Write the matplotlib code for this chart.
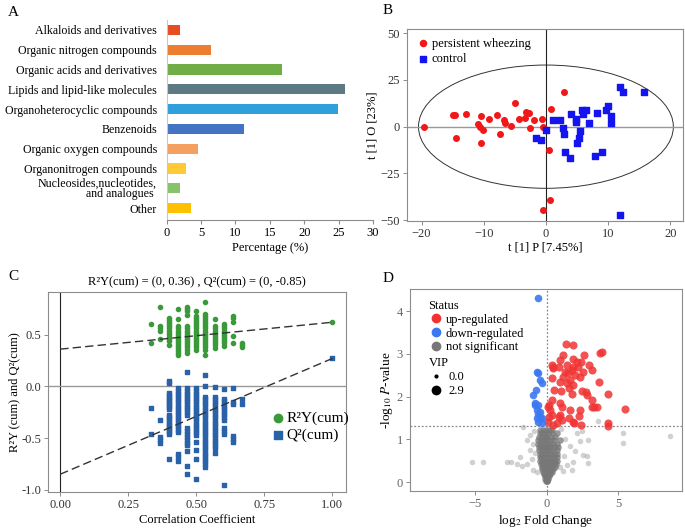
import numpy as np
import matplotlib
matplotlib.use("Agg")
import matplotlib.pyplot as plt
from matplotlib.patches import Ellipse
from matplotlib.lines import Line2D

plt.rcParams['font.family'] = ['Liberation Serif', 'DejaVu Serif']
plt.rcParams['mathtext.fontset'] = 'stix'
plt.rcParams['font.size'] = 9

# ---------------- data: panel A ----------------
classes = ["Alkaloids and derivatives", "Organic nitrogen compounds",
           "Organic acids and derivatives", "Lipids and lipid-like molecules",
           "Organoheterocyclic compounds", "Benzenoids",
           "Organic oxygen compounds", "Organonitrogen compounds",
           "Nucleosides,nucleotides,\nand analogues ", "Other"]
percent = [1.9, 6.5, 16.8, 25.9, 24.9, 11.2, 4.6, 2.8, 1.9, 3.6]
class_colors = ["#E84C22", "#ED7D31", "#70AD47", "#5D7A84", "#2FA0DB",
                "#4472C4", "#F4A060", "#FFCA36", "#85C46A", "#FFC000"]

# ---------------- data: panel B (OPLS-DA scores) ----------------
pw_x = [-19.6, -14.9, -14.7, -14.5, -12.8, -10.5, -11.0, -10.6, -10.2, -10.5,
        -9.2, -7.9, -7.4, -6.7, -6.6, -5.6, -5.0, -4.4, -3.4, -3.2, -2.8,
        -2.5, -1.9, -0.7, -0.5, 0.75, 0.54, 2.85, 0.6, -0.5]
pw_y = [-0.2, 6.1, 6.3, -5.8, 7.0, 5.6, 1.6, -0.2, -1.8, -9.0,
        4.3, 6.5, -3.8, 3.4, 1.8, 0.2, 12.6, 4.2, 4.7, 8.1, 7.2,
        -0.5, 3.6, 4.2, 0.0, 9.2, -12.6, 18.6, -39.0, -44.4]
ct_x = [-0.05, -1.6, -0.75, 1.1, 2.2, 2.8, 2.85, 3.1, 3.9, 4.1, 4.9, 4.9,
        5.0, 5.4, 5.5, 5.75, 5.9, 6.4, 7.0, 8.2, 7.9, 9.1, 9.7, 10.0, 10.5,
        10.5, 11.9, 12.4, 15.75, 11.9]
ct_y = [-2.0, -6.0, -6.9, 3.4, 3.8, -0.9, -3.8, -13.5, -17.0, 6.7, 4.3, 2.7,
        -9.0, -6.3, -2.3, 9.0, 6.9, 8.8, 2.2, 7.4, -15.5, -13.7, 9.0, 11.0, 5.6,
        1.8, 21.5, 18.8, 18.8, -47.5]
ellipse_w, ellipse_h = 41.0, 66.0

# ---------------- data: panel C (permutation test) ----------------
perm_cols = [0.333, 0.367, 0.400, 0.433, 0.467, 0.500, 0.533, 0.567, 0.600, 0.633, 0.667, 1.0]
r2_cols = [
    [0.60, 0.42],
    [0.77, 0.58, 0.56, 0.54, 0.46],
    [0.66, 0.64, 0.62, 0.60, 0.58, 0.56, 0.54, 0.52, 0.50, 0.48, 0.46, 0.44, 0.40],
    [0.75, 0.65, 0.58, 0.56, 0.54, 0.52, 0.50, 0.48, 0.46, 0.44, 0.42, 0.40, 0.38, 0.36, 0.34, 0.32, 0.30],
    [0.77, 0.75, 0.73, 0.69, 0.58, 0.56, 0.54, 0.52, 0.50, 0.48, 0.46, 0.44, 0.42, 0.40, 0.38, 0.35, 0.32],
    [0.73, 0.68, 0.66, 0.64, 0.62, 0.60, 0.58, 0.56, 0.54, 0.52, 0.50, 0.48, 0.46, 0.44, 0.42, 0.40, 0.38, 0.35],
    [0.82, 0.70, 0.68, 0.66, 0.64, 0.62, 0.60, 0.58, 0.56, 0.54, 0.52, 0.50, 0.48, 0.46, 0.44, 0.42, 0.40, 0.38, 0.35, 0.30],
    [0.65, 0.58, 0.56, 0.54, 0.52, 0.50, 0.48, 0.46, 0.44, 0.42, 0.40, 0.37],
    [0.60, 0.58, 0.56, 0.54, 0.52, 0.50, 0.48, 0.46, 0.44, 0.42, 0.39],
    [0.68, 0.66, 0.62, 0.49, 0.42],
    [0.42, 0.40, 0.38],
    [0.62],
]
q2_cols = [
    [-0.21, -0.46],
    [-0.33, -0.49, -0.52, -0.55],
    [0.05, 0.03, -0.06, -0.08, -0.10, -0.12, -0.14, -0.16, -0.18, -0.20, -0.22, -0.28, -0.30,
     -0.32, -0.34, -0.36, -0.38, -0.40, -0.42, -0.44, -0.46, -0.70],
    [-0.02, -0.045, -0.07, -0.095, -0.12, -0.145, -0.17, -0.195, -0.22, -0.245, -0.27, -0.295,
     -0.32, -0.345, -0.37, -0.395, -0.42, -0.44, -0.65, -0.68, -0.72],
    [0.14, -0.02, -0.045, -0.07, -0.095, -0.12, -0.145, -0.17, -0.195, -0.22, -0.245, -0.28,
     -0.40, -0.43, -0.46, -0.49, -0.52, -0.55, -0.57, -0.63, -0.77, -0.85],
    [-0.02, -0.045, -0.07, -0.095, -0.12, -0.145, -0.17, -0.195, -0.22, -0.245, -0.27, -0.295,
     -0.32, -0.345, -0.37, -0.395, -0.42, -0.445, -0.47, -0.54, -0.62, -0.70, -0.90],
    [0.11, 0.0, -0.10, -0.125, -0.15, -0.175, -0.20, -0.225, -0.25, -0.275, -0.30, -0.325,
     -0.35, -0.375, -0.40, -0.425, -0.45, -0.475, -0.50, -0.525, -0.55, -0.575, -0.60,
     -0.625, -0.65, -0.675, -0.70, -0.725, -0.75, -0.78],
    [-0.01, -0.10, -0.125, -0.15, -0.175, -0.20, -0.225, -0.25, -0.275, -0.30, -0.325, -0.35,
     -0.375, -0.40, -0.425, -0.45, -0.475, -0.50, -0.525, -0.55, -0.575, -0.60, -0.64],
    [-0.03, -0.12, -0.145, -0.17, -0.195, -0.22, -0.245, -0.27, -0.295, -0.33, -0.40, -0.43,
     -0.46, -0.95],
    [-0.02, -0.15, -0.17, -0.48, -0.51, -0.54],
    [-0.12, -0.17],
    [0.27],
]
r2_intercept, q2_intercept = 0.36, -0.85
r2_orig, q2_orig = 0.62, 0.27

# ---------------- data: panel D (volcano) ----------------
up_x = [1.35, 1.82, 1.12, 2.63, 3.73, 3.84, 1.82, 2.1, 2.4, 0.93, 0.35, 0.46, 0.86, 1.4,
        1.86, 2.21, 2.56, 2.98, 3.15, 1.28, 1.51, 1.75, 1.16, 1.98, 2.33, 1.63, 1.86, 1.40,
        0.93, 0.35, 3.66, 1.58, 1.75, 0.53, 1.0, 2.49, 2.72, 2.8, 3.15, 4.26, 0.35, 0.93,
        1.05, 1.63, 2.33, 3.2, 3.5, 0.18, 0.23, 0.35, 0.11, 0.46, 0.88, 1.05, 1.58, 1.86,
        2.37, 4.31, 4.31, 5.5, 0.12, 0.19, 0.47, 0.7, 0.94, 1.89, 2.24, 3.3]
up_y = [3.24, 3.20, 2.97, 2.97, 3.01, 3.05, 2.89, 2.81, 2.81, 2.85, 2.74, 2.66, 2.70, 2.74,
        2.70, 2.70, 2.58, 2.74, 2.62, 2.58, 2.54, 2.62, 2.46, 2.50, 2.46, 2.39, 2.27, 2.31,
        2.35, 2.43, 2.33, 2.19, 2.07, 2.15, 2.14, 2.13, 2.11, 2.04, 1.92, 2.05, 1.92, 1.84,
        1.76, 1.68, 1.68, 1.75, 1.75, 1.80, 1.68, 1.57, 1.41, 1.33, 1.51, 1.45, 1.49, 1.41,
        1.33, 1.37, 1.30, 1.71, 1.76, 1.53, 2.70, 1.37, 1.57, 1.37, 1.55, 1.76]
down_x = [-0.59, -0.70, -0.60, -0.47, -0.35, -0.77, -0.98, -0.81, -0.58, -0.70, -0.58,
          -0.47, -0.70, -0.35, -0.58, -0.35, -0.83, -0.47]
down_y = [4.31, 2.58, 2.54, 2.39, 2.31, 2.15, 2.04, 1.84, 1.80, 1.68, 1.60,
          1.64, 1.49, 1.49, 1.41, 1.37, 1.80, 1.53]
# dense core of non-significant features
ns_core_x = [0.0, -0.05, 0.05, -0.1, 0.0, 0.1, -0.15, -0.05, 0.05, 0.15,
             -0.2, -0.1, 0.0, 0.1, 0.2, -0.25, -0.12, 0.0, 0.12, 0.25, 0.35,
             -0.3, -0.15, 0.0, 0.15, 0.3, 0.45, -0.35, -0.2, -0.05, 0.1, 0.25, 0.4, 0.55,
             -0.4, -0.25, -0.1, 0.05, 0.2, 0.35, 0.5, 0.65,
             -0.45, -0.3, -0.15, 0.0, 0.15, 0.3, 0.45, 0.6, 0.75,
             -0.5, -0.3, -0.1, 0.1, 0.3, 0.5, 0.7, -0.5, -0.3, -0.1, 0.1, 0.3, 0.5, 0.75,
             -0.55, -0.35, -0.15, 0.05, 0.25, 0.45, 0.7, -0.55, -0.35, -0.15, 0.05, 0.25, 0.5, 0.8,
             -0.6, -0.4, -0.2, 0.0, 0.2, 0.45, 0.7, -0.6, -0.4, -0.2, 0.0, 0.2, 0.5, 0.9,
             -0.55, -0.35, -0.15, 0.05, 0.3, 0.6, -0.5, -0.3, -0.1, 0.1, 0.35, 0.7,
             -0.45, -0.25, -0.05, 0.15, 0.4]
ns_core_y = [0.03, 0.03, 0.03, 0.08, 0.08, 0.08, 0.13, 0.13, 0.13, 0.13,
             0.18, 0.18, 0.18, 0.18, 0.18, 0.24, 0.24, 0.24, 0.24, 0.24, 0.24,
             0.30, 0.30, 0.30, 0.30, 0.30, 0.30, 0.36, 0.36, 0.36, 0.36, 0.36, 0.36, 0.36,
             0.43, 0.43, 0.43, 0.43, 0.43, 0.43, 0.43, 0.43,
             0.50, 0.50, 0.50, 0.50, 0.50, 0.50, 0.50, 0.50, 0.50,
             0.58, 0.58, 0.58, 0.58, 0.58, 0.58, 0.58, 0.66, 0.66, 0.66, 0.66, 0.66, 0.66, 0.66,
             0.74, 0.74, 0.74, 0.74, 0.74, 0.74, 0.74, 0.82, 0.82, 0.82, 0.82, 0.82, 0.82, 0.82,
             0.90, 0.90, 0.90, 0.90, 0.90, 0.90, 0.90, 0.98, 0.98, 0.98, 0.98, 0.98, 0.98, 0.98,
             1.06, 1.06, 1.06, 1.06, 1.06, 1.06, 1.14, 1.14, 1.14, 1.14, 1.14, 1.14,
             1.22, 1.22, 1.22, 1.22, 1.22]
# scattered non-significant features
ns_x = [-5.24, -4.43, -2.8, -2.52, -2.1, -1.75, -1.4, -1.87, -1.64, -1.17, -1.4, -0.94,
        -1.17, -0.82, -0.94, -0.7, -1.05, -0.9, 5.36, 5.36, 8.62, 2.91, 2.56, 2.8, 2.91,
        1.98, 2.3, 1.86, 1.75, 1.16, 3.6, 1.3, 1.6, 2.1, 1.0, 1.2, 0.9, 1.45, 2.45, 0.3]
ns_y = [0.46, 0.46, 0.46, 0.46, 0.41, 0.38, 0.43, 0.59, 1.29, 1.10, 0.98, 0.90,
        0.75, 0.67, 0.27, 0.23, 0.55, 1.2, 1.14, 0.92, 1.08, 0.98, 0.63, 0.60, 0.44,
        0.73, 0.96, 0.47, 0.28, 0.25, 1.43, 1.0, 0.85, 1.15, 1.25, 0.6, 0.35, 0.4, 1.2, 1.28]
p_cut = 1.301

# ---------------- figure ----------------
fig = plt.figure(figsize=(6.85, 5.32), dpi=100)
spine_col = "#8c8c8c"


def box_axes(ax):
    for s in ax.spines.values():
        s.set_color(spine_col)
        s.set_linewidth(0.8)
    ax.tick_params(direction='out', length=3, width=0.7, color=spine_col,
                   labelsize=9, labelcolor="#333333", pad=2)


# ---- A ----
axA = fig.add_axes([0.2434, 0.5865, 0.3011, 0.376])
ypos = np.arange(len(classes))
axA.barh(ypos, percent, height=0.52, color=class_colors)
axA.set_yticks(ypos)
axA.set_yticklabels(classes, fontsize=8.6, linespacing=0.8)
axA.set_ylim(9.6, -0.5)
axA.set_xlim(0, 30)
axA.set_xticks(np.arange(0, 31, 5))
axA.spines["top"].set_visible(False)
axA.spines["right"].set_visible(False)
axA.spines["left"].set_color("#c8c8c8")
axA.spines["bottom"].set_color(spine_col)
axA.tick_params(axis='y', length=0, pad=7)
axA.tick_params(axis='x', direction='out', length=3, color=spine_col, labelsize=9, pad=2)
axA.set_xlabel("Percentage (%)", fontsize=9, labelpad=2)

# ---- B ----
axB = fig.add_axes([0.5937, 0.5846, 0.4038, 0.3609])
box_axes(axB)
axB.axvline(0, color="#222222", lw=0.8)
axB.axhline(0, color="#999999", lw=1.0)
axB.add_patch(Ellipse((0, 0), ellipse_w, ellipse_h, fill=False, ec="#333333", lw=0.7))
axB.scatter(pw_x, pw_y, s=16, color="#F01818", marker='o', label="persistent wheezing", zorder=3)
axB.scatter(ct_x, ct_y, s=16, color="#1414EE", marker='s', label="control", zorder=3)
axB.set_xlim(-22.4, 22.1)
axB.set_ylim(-50.5, 52.3)
axB.set_xticks([-20, -10, 0, 10, 20])
axB.set_yticks([-50, -25, 0, 25, 50])
axB.set_xlabel("t [1] P [7.45%]", fontsize=9, labelpad=1)
axB.set_ylabel("t [1] O [23%]", fontsize=9, labelpad=1)
axB.legend(loc="upper left", frameon=False, fontsize=9, handletextpad=0.1,
           labelspacing=0.25, borderaxespad=0.3, markerscale=1.1, handlelength=1.2)

# ---- C ----
axC = fig.add_axes([0.0705, 0.0746, 0.4346, 0.376])
box_axes(axC)
axC.axvline(0, color="#222222", lw=0.8)
axC.axhline(0, color="#999999", lw=1.0)
for i, xc in enumerate(perm_cols):
    axC.scatter([xc] * len(r2_cols[i]), r2_cols[i], s=9, color="#3A9A3A", marker='o',
                zorder=3, label="R²Y(cum)" if i == 0 else None)
for i, xc in enumerate(perm_cols):
    axC.scatter([xc] * len(q2_cols[i]), q2_cols[i], s=9, color="#2A62AA", marker='s',
                zorder=3, label="Q²(cum)" if i == 0 else None)
axC.plot([0, 1], [r2_intercept, r2_orig], ls=(0, (6, 3)), color="#333333", lw=1.0, zorder=4)
axC.plot([0, 1], [q2_intercept, q2_orig], ls=(0, (6, 3)), color="#333333", lw=1.0, zorder=4)
axC.set_xlim(-0.044, 1.05)
axC.set_ylim(-1.025, 0.91)
axC.set_xticks([0, 0.25, 0.5, 0.75, 1.0])
axC.set_xticklabels(["0.00", "0.25", "0.50", "0.75", "1.00"])
axC.set_yticks([-1.0, -0.5, 0.0, 0.5])
axC.set_yticklabels(["-1.0", "-0.5", "0.0", "0.5"])
axC.set_xlabel("Correlation Coefficient", fontsize=9, labelpad=2)
axC.set_ylabel("R²Y (cum) and Q²(cum)", fontsize=9, labelpad=1)
axC.set_title("R²Y(cum) = (0, 0.36) , Q²(cum) = (0, -0.85)", fontsize=9, pad=5)
axC.legend(loc="center left", bbox_to_anchor=(0.70, 0.33), frameon=False, fontsize=11,
           handletextpad=0.05, labelspacing=0.2, markerscale=2.0, handlelength=1.0)

# ---- D ----
axD = fig.add_axes([0.5985, 0.0771, 0.3976, 0.3791])
box_axes(axD)
axD.tick_params(labelcolor="#666666")
axD.scatter(ns_x, ns_y, s=16, color="#9a9a9a", alpha=0.45, lw=0, zorder=2)
axD.scatter(ns_core_x, ns_core_y, s=22, color="#777777", alpha=0.75, lw=0, zorder=2)
axD.scatter(up_x, up_y, s=34, color="#F03434", alpha=0.85, lw=0, zorder=3)
axD.scatter(down_x, down_y, s=30, color="#3C78F0", alpha=0.9, lw=0, zorder=3)
axD.axvline(0, color="#888888", lw=0.9, ls=(0, (1.5, 1.5)), zorder=1)
axD.axhline(p_cut, color="#888888", lw=0.9, ls=(0, (1.5, 1.5)), zorder=1)
axD.set_xlim(-9.56, 9.48)
axD.set_ylim(-0.21, 4.51)
axD.set_xticks([-5, 0, 5])
axD.set_yticks([0, 1, 2, 3, 4])
axD.set_xlabel(r"log$_2$ Fold Change", fontsize=9.5, labelpad=2)
axD.set_ylabel(r"-log$_{10}$ $P$-value", fontsize=9.5, labelpad=1)
status_handles = [
    Line2D([], [], ls='', marker='o', ms=6, color="#F03434", label="up-regulated"),
    Line2D([], [], ls='', marker='o', ms=6, color="#3C78F0", label="down-regulated"),
    Line2D([], [], ls='', marker='o', ms=6, color="#777777", label="not significant"),
]
leg1 = axD.legend(handles=status_handles, title="Status", loc="upper left",
                  bbox_to_anchor=(0.04, 0.985), frameon=False, fontsize=9,
                  title_fontsize=9, alignment='left', handletextpad=0.2,
                  labelspacing=0.15, handlelength=1.2, borderaxespad=0.2)
axD.add_artist(leg1)
vip_handles = [
    Line2D([], [], ls='', marker='o', ms=2, color="black", label="0.0"),
    Line2D([], [], ls='', marker='o', ms=6, color="black", label="2.9"),
]
axD.legend(handles=vip_handles, title="VIP", loc="upper left",
           bbox_to_anchor=(0.04, 0.70), frameon=False, fontsize=9,
           title_fontsize=9, alignment='left', handletextpad=0.4,
           labelspacing=0.15, handlelength=1.2, borderaxespad=0.2)

# panel letters
for lab, (px, py) in {"A": (8, 12), "B": (383, 10), "C": (8, 276), "D": (383, 279)}.items():
    fig.text(px / 685, 1 - py / 532, lab, fontsize=11, va='center', ha='left')

fig.savefig("out.png", dpi=100)
